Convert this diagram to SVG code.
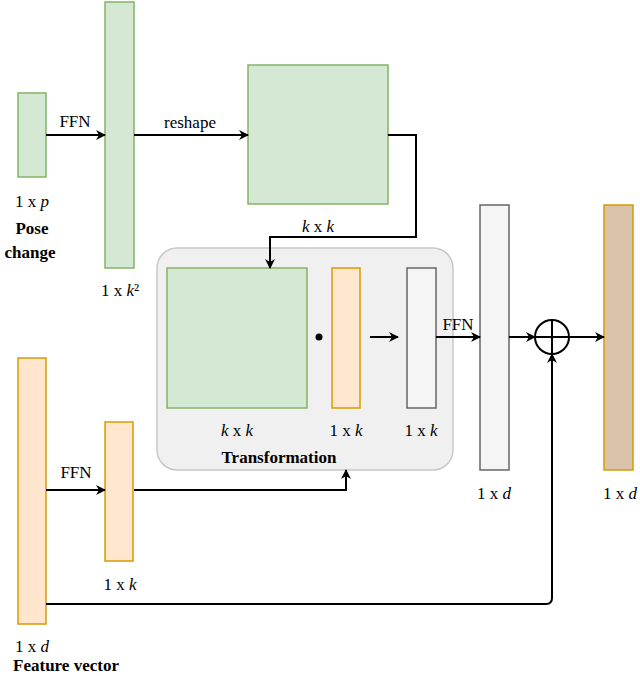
<svg xmlns="http://www.w3.org/2000/svg" width="640" height="676" viewBox="0 0 640 676" font-family="'Liberation Serif','Times New Roman','DejaVu Serif',serif">
<style>
.g{fill:#d5e8d4;stroke:#82b366;stroke-width:1.5}
.o{fill:#ffe6cc;stroke:#d79b00;stroke-width:1.5}
.s{fill:#f5f5f5;stroke:#666;stroke-width:1.5}
.b{fill:#dbc2ab;stroke:#d79b00;stroke-width:1.5}
text{font-family:'Liberation Serif','Times New Roman','DejaVu Serif',serif;font-size:17px;fill:#000;text-anchor:middle}
.bd{font-weight:bold}
.c{fill:none;stroke:#000;stroke-width:2}
</style>
<defs><marker id="a" markerWidth="10" markerHeight="10" refX="9" refY="5" orient="auto" markerUnits="userSpaceOnUse"><path d="M0,0 L10,5 L0,10 L3,5 Z" fill="#000"/></marker></defs>
<g id="transformation"><rect x="157" y="248" width="296" height="222" rx="20" fill="#f0f0f0" stroke="#c8c8c8" stroke-width="1.5"/><text x="279" y="463" class="bd">Transformation</text></g>
<g id="pose"><rect class="g" x="18" y="93" width="28" height="84"/><text x="32" y="207">1 x <tspan font-style="italic">p</tspan></text><text x="32" y="234" class="bd">Pose</text><text x="30" y="258" class="bd">change</text></g>
<g id="k2"><rect class="g" x="105" y="2" width="29" height="266"/><text x="120" y="296">1 x <tspan font-style="italic">k</tspan>²</text></g>
<g id="reshaped"><rect class="g" x="248" y="65" width="140" height="139"/><text x="318" y="232"><tspan font-style="italic">k</tspan> x <tspan font-style="italic">k</tspan></text></g>
<g id="matrix"><rect class="g" x="167" y="268" width="140" height="140"/><text x="237" y="436"><tspan font-style="italic">k</tspan> x <tspan font-style="italic">k</tspan></text><circle cx="319" cy="337" r="3.5"/></g>
<g id="vk"><rect class="o" x="332" y="268" width="28" height="140"/><text x="346" y="436">1 x <tspan font-style="italic">k</tspan></text></g>
<g id="res"><rect class="s" x="407" y="268" width="29" height="140"/><text x="421" y="436">1 x <tspan font-style="italic">k</tspan></text></g>
<g id="d1"><rect class="s" x="480" y="205" width="29" height="265"/><text x="494" y="499">1 x <tspan font-style="italic">d</tspan></text></g>
<g id="sum"><circle cx="552" cy="337" r="17" fill="none" stroke="#000" stroke-width="2"/><path d="M535,337H569M552,320V354" stroke="#000" stroke-width="2"/></g>
<g id="out"><rect class="b" x="604" y="205" width="29" height="265"/><text x="620" y="499">1 x <tspan font-style="italic">d</tspan></text></g>
<g id="feat"><rect class="o" x="18" y="358" width="28" height="266"/><text x="32" y="652">1 x <tspan font-style="italic">d</tspan></text><text x="66" y="671" class="bd">Feature vector</text></g>
<g id="fk"><rect class="o" x="105" y="422" width="28" height="139"/><text x="120" y="590">1 x <tspan font-style="italic">k</tspan></text></g>
<g id="connectors">
<path class="c" d="M46,135H105" marker-end="url(#a)"/><text x="75" y="127">FFN</text>
<path class="c" d="M134,135H248" marker-end="url(#a)"/><text x="190" y="128">reshape</text>
<path class="c" d="M388,135H416V237H270V268" marker-end="url(#a)"/>
<path class="c" d="M370,337H398" marker-end="url(#a)"/>
<path class="c" d="M436,337H480" marker-end="url(#a)"/><text x="458" y="330">FFN</text>
<path class="c" d="M509,337H535" marker-end="url(#a)"/>
<path class="c" d="M569,337H604" marker-end="url(#a)"/>
<path class="c" d="M46,490H105" marker-end="url(#a)"/><text x="76" y="478">FFN</text>
<path class="c" d="M134,490H346V470" marker-end="url(#a)"/>
<path class="c" d="M46,604H546Q552,604 552,598V354" marker-end="url(#a)"/>
</g>
</svg>
